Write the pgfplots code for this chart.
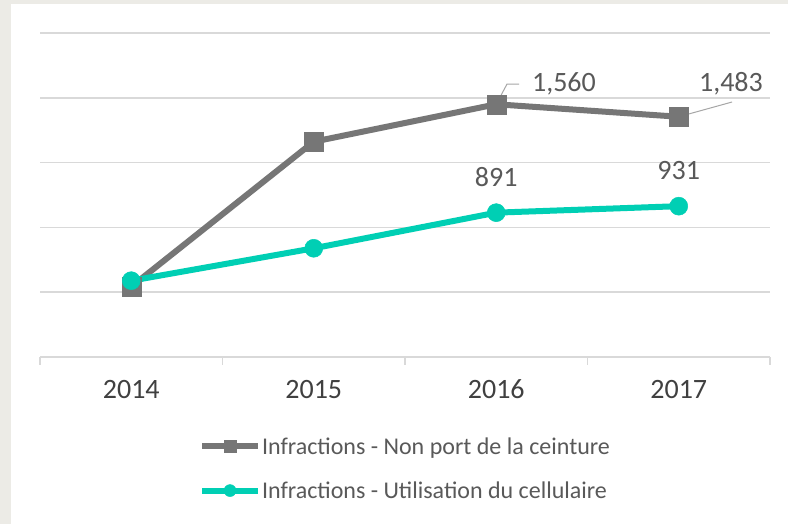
\documentclass[border=0pt]{standalone}
\usepackage{pgfplots}
\pgfplotsset{compat=1.18}
\usepackage{fontspec}
\setmainfont{Carlito}
\definecolor{bandc}{HTML}{ECEBE6}
\definecolor{grayline}{HTML}{767676}
\definecolor{cyanline}{HTML}{00CFB4}
\definecolor{gridc}{HTML}{D9D9D9}
\definecolor{txt}{HTML}{404040}
\definecolor{txttwo}{HTML}{595959}
\definecolor{leader}{HTML}{A6A6A6}
\begin{document}
\begin{tikzpicture}
\fill[bandc] (0,0) rectangle (788pt,524pt);
\fill[white] (11pt,0) rectangle (788pt,520pt);
\begin{axis}[
 at={(40pt,167pt)}, anchor=south west,
 scale only axis, width=730pt, height=324pt,
 xmin=2013.5, xmax=2017.5, ymin=0, ymax=2000,
 xtick={2014,2015,2016,2017},
 minor xtick={2013.5,2014.5,2015.5,2016.5,2017.5},
 ytick={400,800,1200,1600,2000},
 yticklabels={},
 ymajorgrids,
 grid style={gridc, line width=1.5pt},
 axis lines*=left,
 y axis line style={draw=none},
 x axis line style={gridc, line width=1.5pt},
 major x tick style={draw=none},
 minor x tick style={gridc, line width=1.5pt},
 minor tick length=8pt,
 ytick style={draw=none},
 tick align=outside,
 xticklabel style={font=\fontsize{28}{30}\selectfont, text=txt, text height=18pt, text depth=0pt, yshift=-16pt, /pgf/number format/1000 sep={}},
 /pgf/number format/assume math mode=true,
 clip=false,
 legend style={draw=none, fill=none, at={(0.5,-0.235)}, anchor=north,
   font=\fontsize{24}{26}\selectfont, text=txttwo, row sep=22pt, nodes={inner xsep=1pt}},
 legend cell align=left,
 legend image code/.code={\draw[mark repeat=2,mark phase=2,mark size=6pt] plot coordinates {(0pt,0pt) (28pt,0pt) (56pt,0pt)};},
]
\addplot[grayline, line width=6pt, mark=square*, mark size=9.5pt, mark options={solid, line width=0.5pt}] coordinates {(2014,434)(2015,1329)(2016,1560)(2017,1483)};
\addlegendentry{Infractions - Non port de la ceinture}
\addplot[cyanline, line width=6pt, mark=*, mark size=9pt, mark options={solid, line width=0.5pt}] coordinates {(2014,471)(2015,671)(2016,891)(2017,931)};
\addlegendentry{Infractions - Utilisation du cellulaire}
\draw[leader, line width=1pt] (axis cs:2016,1560) -- (axis cs:2016.059,1685) -- (axis cs:2016.125,1685);
\draw[leader, line width=1pt] (axis cs:2017,1483) -- (axis cs:2017.292,1574);
\node[font=\fontsize{28}{30}\selectfont, text=txttwo] at (axis cs:2016.371,1685) {1,560};
\node[font=\fontsize{28}{30}\selectfont, text=txttwo] at (axis cs:2017.286,1685) {1,483};
\node[font=\fontsize{28}{30}\selectfont, text=txttwo] at (axis cs:2016,1111) {891};
\node[font=\fontsize{28}{30}\selectfont, text=txttwo] at (axis cs:2017,1154) {931};
\end{axis}
\end{tikzpicture}
\end{document}
